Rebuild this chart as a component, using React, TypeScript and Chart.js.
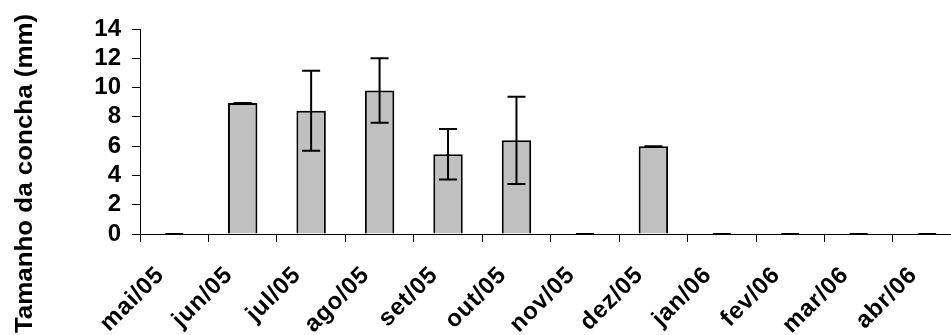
import React, { useEffect, useRef } from "react";
import { Chart, registerables } from "chart.js";

Chart.register(...registerables);

const categories = ["mai/05", "jun/05", "jul/05", "ago/05", "set/05", "out/05", "nov/05", "dez/05", "jan/06", "fev/06", "mar/06", "abr/06"];
const means = [0, 8.95, 8.42, 9.8, 5.45, 6.4, 0, 6.0, 0, 0, 0, 0];
const errors = [0, 0, 2.73, 2.2, 1.72, 2.98, 0, 0, 0, 0, 0, 0];
const yTicks = [0, 2, 4, 6, 8, 10, 12, 14];
const yTitle = "Tamanho da concha (mm)";

const FONT = "'Liberation Sans', Arial, sans-serif";

const errorBarPlugin = {
  id: "errorBars",
  afterDatasetsDraw(chart: any) {
    const ctx = chart.ctx;
    const meta = chart.getDatasetMeta(0);
    const y = chart.scales.y;
    ctx.save();
    ctx.strokeStyle = "#000";
    ctx.lineWidth = 2;
    meta.data.forEach((bar: any, i: number) => {
      const v = means[i];
      const e = errors[i];
      const x = bar.x;
      const top = y.getPixelForValue(v + e);
      const bot = y.getPixelForValue(v - e);
      const half = 9;
      ctx.beginPath();
      if (e > 0) {
        ctx.moveTo(x, top);
        ctx.lineTo(x, bot);
      }
      ctx.moveTo(x - half, top);
      ctx.lineTo(x + half, top);
      ctx.moveTo(x - half, bot);
      ctx.lineTo(x + half, bot);
      ctx.stroke();
    });
    ctx.restore();
  },
};

const textPlugin = {
  id: "texts",
  afterDraw(chart: any) {
    const ctx = chart.ctx;
    const xs = chart.scales.x;
    const yBase = chart.chartArea.bottom;
    ctx.save();
    ctx.fillStyle = "#000";
    ctx.font = `bold 24px ${FONT}`;
    try {
      (ctx as any).letterSpacing = "0.8px";
    } catch (e) {}
    ctx.textAlign = "right";
    ctx.textBaseline = "alphabetic";
    categories.forEach((lab, i) => {
      const cx = xs.getPixelForValue(i);
      ctx.save();
      ctx.translate(cx - 9, yBase + 42);
      ctx.rotate(-Math.PI / 4);
      ctx.fillText(lab, 0, 0);
      ctx.restore();
    });
    try {
      (ctx as any).letterSpacing = "0px";
    } catch (e) {}
    ctx.save();
    ctx.translate(32, 173.5);
    ctx.rotate(-Math.PI / 2);
    ctx.scale(1.08, 1);
    ctx.font = `bold 24px ${FONT}`;
    ctx.textAlign = "center";
    ctx.textBaseline = "alphabetic";
    ctx.fillText(yTitle, 0, 0);
    ctx.restore();
    ctx.restore();
  },
};

export default function App() {
  const ref = useRef<HTMLCanvasElement>(null);
  useEffect(() => {
    let chart: Chart | null = null;
    let cancelled = false;
    const build = () => {
      if (cancelled || !ref.current) return;
      chart = new Chart(ref.current, {
        type: "bar",
        data: {
          labels: categories,
          datasets: [
            {
              data: means,
              backgroundColor: "#c0c0c0",
              borderColor: "#000",
              borderWidth: 2,
              barPercentage: 0.43,
              categoryPercentage: 1,
            },
          ],
        },
        options: {
          animation: false,
          responsive: false,
          devicePixelRatio: 1,
          layout: { padding: { left: 0, right: 13.6, top: 29, bottom: 0 } },
          plugins: { legend: { display: false }, tooltip: { enabled: false }, title: { display: false } },
          scales: {
            x: {
              type: "category",
              offset: true,
              grid: { offset: true, drawOnChartArea: false, drawTicks: true, tickLength: 8, color: "#000", lineWidth: 1 },
              border: { color: "#000", width: 1 },
              ticks: { display: false },
              afterFit: (s: any) => {
                s.height = 101;
              },
            },
            y: {
              min: 0,
              max: 14,
              afterBuildTicks: (s: any) => {
                s.ticks = yTicks.map((v) => ({ value: v }));
              },
              grid: { drawOnChartArea: false, drawTicks: true, tickLength: 8, color: "#000", lineWidth: 1 },
              border: { color: "#000", width: 1 },
              ticks: {
                color: "#000",
                padding: 11,
                autoSkip: false,
                font: { family: FONT, size: 24, weight: "bold" },
              },
              afterFit: (s: any) => {
                s.width = 140;
              },
            },
          },
        } as any,
        plugins: [errorBarPlugin, textPlugin],
      });
    };
    const fonts: any = (document as any).fonts;
    if (fonts && fonts.load) {
      Promise.all([fonts.load(`bold 24px 'Liberation Sans'`)])
        .catch(() => null)
        .then(() => build());
    } else {
      build();
    }
    return () => {
      cancelled = true;
      if (chart) chart.destroy();
    };
  }, []);
  return (
    <div style={{ position: "fixed", left: 0, top: 0, width: 951, height: 335, overflow: "hidden", background: "#fff" }}>
      <canvas ref={ref} width={975} height={335} style={{ display: "block", width: 975, height: 335 }} />
    </div>
  );
}
